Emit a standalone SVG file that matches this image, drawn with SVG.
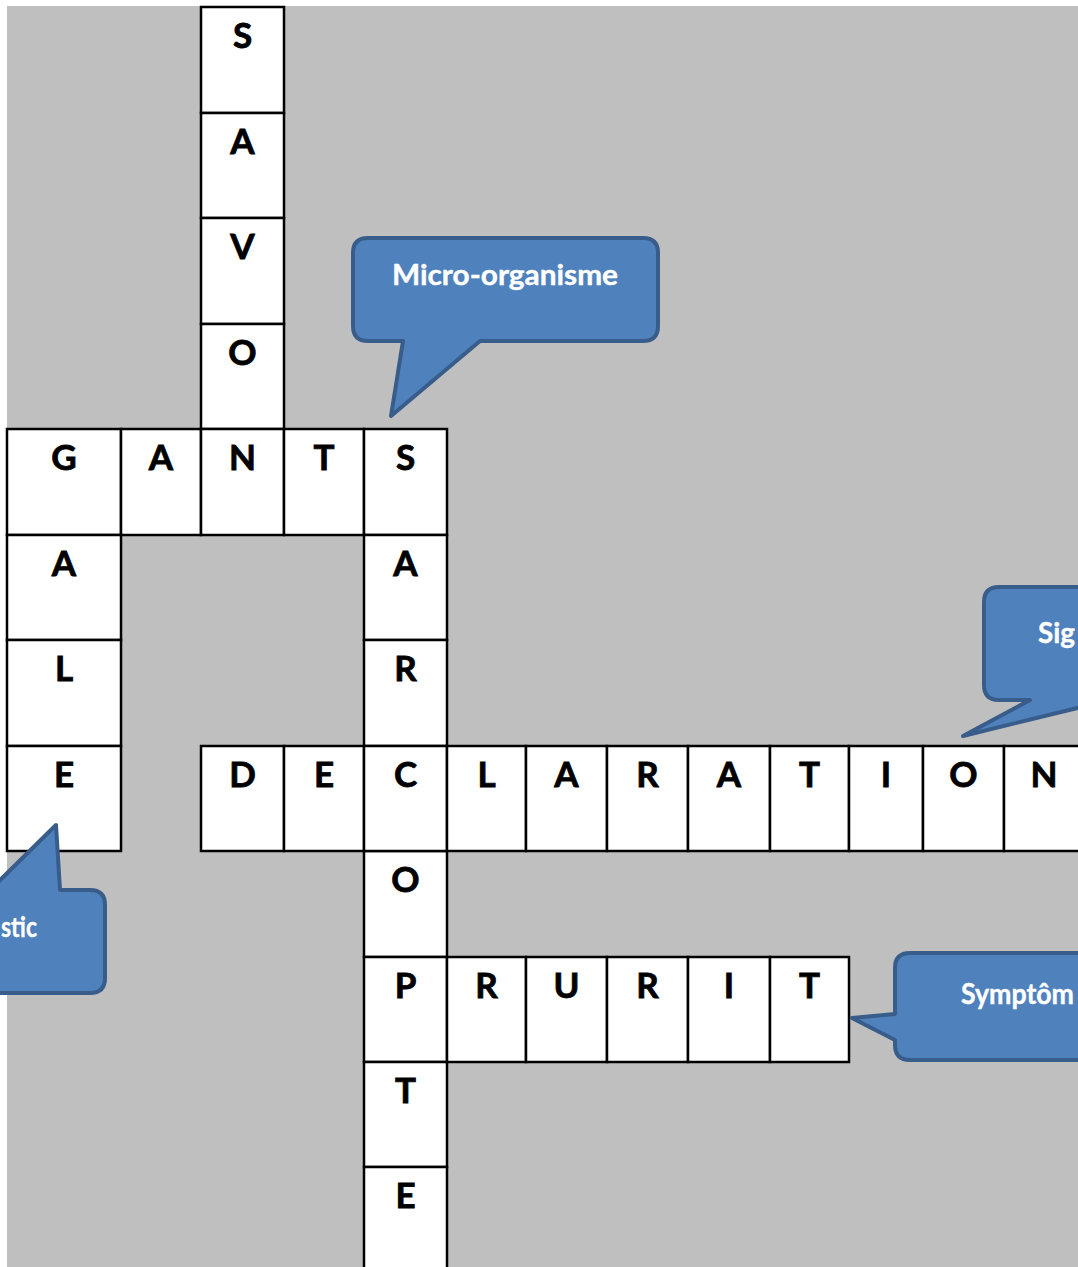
<svg xmlns="http://www.w3.org/2000/svg" width="1078" height="1267" viewBox="0 0 1078 1267">
<style>
.cell{fill:#ffffff;stroke:#000000;stroke-width:2.5}
.ltr{font-family:Lato,"Open Sans","Liberation Sans",sans-serif;font-weight:700;font-size:35px;fill:#000000;stroke:#000000;stroke-width:0.8;text-anchor:middle}
.bub{fill:#4f81bd;stroke:#385d8a;stroke-width:4;stroke-linejoin:round}
.btxt{font-family:Lato,"Open Sans","Liberation Sans",sans-serif;font-weight:700;font-size:29px;fill:#ffffff;stroke:#ffffff;stroke-width:0.4}
</style>
<rect x="0" y="0" width="1078" height="1267" fill="#ffffff"/>
<rect x="7" y="6" width="1071" height="1261" fill="#bfbfbf"/>

<g id="word-savon">
<g id="c-savon-1"><rect class="cell" x="201" y="7" width="83" height="106"/><text class="ltr" x="242.5" y="48">S</text></g>
<g id="c-savon-2"><rect class="cell" x="201" y="113" width="83" height="105"/><text class="ltr" x="242.5" y="154">A</text></g>
<g id="c-savon-3"><rect class="cell" x="201" y="218" width="83" height="106"/><text class="ltr" x="242.5" y="259">V</text></g>
<g id="c-savon-4"><rect class="cell" x="201" y="324" width="83" height="105"/><text class="ltr" x="242.5" y="365">O</text></g>
</g>

<g id="word-gants">
<g id="c-gants-1"><rect class="cell" x="7" y="429" width="114" height="106"/><text class="ltr" x="64" y="470">G</text></g>
<g id="c-gants-2"><rect class="cell" x="121" y="429" width="80" height="106"/><text class="ltr" x="161" y="470">A</text></g>
<g id="c-gants-3"><rect class="cell" x="201" y="429" width="83" height="106"/><text class="ltr" x="242.5" y="470">N</text></g>
<g id="c-gants-4"><rect class="cell" x="284" y="429" width="80" height="106"/><text class="ltr" x="324" y="470">T</text></g>
<g id="c-gants-5"><rect class="cell" x="364" y="429" width="83" height="106"/><text class="ltr" x="405.5" y="470">S</text></g>
</g>

<g id="word-gale">
<g id="c-gale-2"><rect class="cell" x="7" y="535" width="114" height="105"/><text class="ltr" x="64" y="576">A</text></g>
<g id="c-gale-3"><rect class="cell" x="7" y="640" width="114" height="106"/><text class="ltr" x="64" y="681">L</text></g>
<g id="c-gale-4"><rect class="cell" x="7" y="746" width="114" height="105"/><text class="ltr" x="64" y="787">E</text></g>
</g>

<g id="word-sarcopte">
<g id="c-sar-2"><rect class="cell" x="364" y="535" width="83" height="105"/><text class="ltr" x="405.5" y="576">A</text></g>
<g id="c-sar-3"><rect class="cell" x="364" y="640" width="83" height="106"/><text class="ltr" x="405.5" y="681">R</text></g>
<g id="c-sar-5"><rect class="cell" x="364" y="851" width="83" height="106"/><text class="ltr" x="405.5" y="892">O</text></g>
<g id="c-sar-6"><rect class="cell" x="364" y="957" width="83" height="105"/><text class="ltr" x="405.5" y="998">P</text></g>
<g id="c-sar-7"><rect class="cell" x="364" y="1062" width="83" height="105"/><text class="ltr" x="405.5" y="1103">T</text></g>
<g id="c-sar-8"><rect class="cell" x="364" y="1167" width="83" height="110"/><text class="ltr" x="405.5" y="1208">E</text></g>
</g>

<g id="word-declaration">
<g id="c-dec-1"><rect class="cell" x="201" y="746" width="83" height="105"/><text class="ltr" x="242.5" y="787">D</text></g>
<g id="c-dec-2"><rect class="cell" x="284" y="746" width="80" height="105"/><text class="ltr" x="324" y="787">E</text></g>
<g id="c-dec-3"><rect class="cell" x="364" y="746" width="83" height="105"/><text class="ltr" x="405.5" y="787">C</text></g>
<g id="c-dec-4"><rect class="cell" x="447" y="746" width="79" height="105"/><text class="ltr" x="486.5" y="787">L</text></g>
<g id="c-dec-5"><rect class="cell" x="526" y="746" width="81" height="105"/><text class="ltr" x="566.5" y="787">A</text></g>
<g id="c-dec-6"><rect class="cell" x="607" y="746" width="81" height="105"/><text class="ltr" x="647.5" y="787">R</text></g>
<g id="c-dec-7"><rect class="cell" x="688" y="746" width="82" height="105"/><text class="ltr" x="729" y="787">A</text></g>
<g id="c-dec-8"><rect class="cell" x="770" y="746" width="79" height="105"/><text class="ltr" x="809.5" y="787">T</text></g>
<g id="c-dec-9"><rect class="cell" x="849" y="746" width="74" height="105"/><text class="ltr" x="886" y="787">I</text></g>
<g id="c-dec-10"><rect class="cell" x="923" y="746" width="81" height="105"/><text class="ltr" x="963.5" y="787">O</text></g>
<g id="c-dec-11"><rect class="cell" x="1004" y="746" width="80" height="105"/><text class="ltr" x="1044" y="787">N</text></g>
</g>

<g id="word-prurit">
<g id="c-pru-2"><rect class="cell" x="447" y="957" width="79" height="105"/><text class="ltr" x="486.5" y="998">R</text></g>
<g id="c-pru-3"><rect class="cell" x="526" y="957" width="81" height="105"/><text class="ltr" x="566.5" y="998">U</text></g>
<g id="c-pru-4"><rect class="cell" x="607" y="957" width="81" height="105"/><text class="ltr" x="647.5" y="998">R</text></g>
<g id="c-pru-5"><rect class="cell" x="688" y="957" width="82" height="105"/><text class="ltr" x="729" y="998">I</text></g>
<g id="c-pru-6"><rect class="cell" x="770" y="957" width="79" height="105"/><text class="ltr" x="809.5" y="998">T</text></g>
</g>

<g id="bubble-micro">
<path class="bub" d="M368,238 H643 Q658,238 658,253 V326 Q658,341 643,341 H480 L391,416 L403,341 H368 Q353,341 353,326 V253 Q353,238 368,238 Z"/>
<text class="btxt" x="392" y="285" textLength="226" lengthAdjust="spacingAndGlyphs">Micro-organisme</text>
</g>

<g id="bubble-signe">
<path class="bub" d="M999,587 H1200 V700 H1110 L963,736 L1030,700 H999 Q984,700 984,685 V602 Q984,587 999,587 Z"/>
<text class="btxt" x="1038" y="643" textLength="37" lengthAdjust="spacingAndGlyphs">Sig</text>
</g>

<g id="bubble-diagnostic">
<path class="bub" d="M-200,890 H-10 L56,825 L60,890 H90 Q105,890 105,905 V978 Q105,993 90,993 H-200 Z"/>
<text class="btxt" x="1" y="937" textLength="36" lengthAdjust="spacingAndGlyphs">stic</text>
</g>

<g id="bubble-symptome">
<path class="bub" d="M910,953 H1250 V1060 H910 Q895,1060 895,1045 V1040 L852,1018 L895,1014 V968 Q895,953 910,953 Z"/>
<text class="btxt" x="961" y="1004" textLength="113" lengthAdjust="spacingAndGlyphs">Symptôm</text>
</g>
</svg>
